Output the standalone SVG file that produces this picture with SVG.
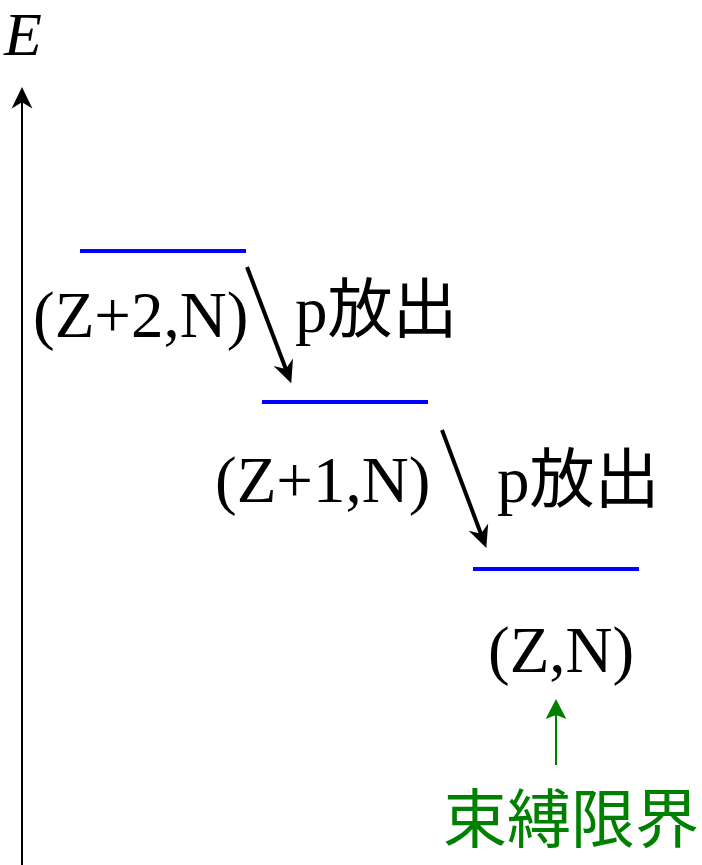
<svg xmlns="http://www.w3.org/2000/svg" width="702" height="865" viewBox="0 0 702 865">
<style>
.lvl{stroke:#0000ff;stroke-width:4;fill:none}
.lbl{font-family:"Liberation Serif","Noto Sans CJK JP",serif;font-size:65px;fill:#000}
.ax{stroke:#000;stroke-width:2;fill:none}
.trans{stroke:#000;stroke-width:4;fill:none}
.grn{stroke:#008000;stroke-width:2;fill:none}
</style>
<defs>
<marker id="ahAx" markerUnits="userSpaceOnUse" markerWidth="40" markerHeight="40" refX="0" refY="0" orient="auto" overflow="visible" viewBox="-30 -20 50 40">
<path d="M10,0 L-17,-13 L-9,0 L-17,13 Z" fill="#000"/>
</marker>
<marker id="ahT" markerUnits="userSpaceOnUse" markerWidth="40" markerHeight="40" refX="0" refY="0" orient="auto" overflow="visible" viewBox="-30 -20 50 40">
<path d="M10,0 L-18,-13 L-9,0 L-18,13 Z" fill="#000"/>
</marker>
<marker id="ahG" markerUnits="userSpaceOnUse" markerWidth="40" markerHeight="40" refX="0" refY="0" orient="auto" overflow="visible" viewBox="-30 -20 50 40">
<path d="M10,0 L-15,-13 L-10,0 L-15,13 Z" fill="#008000"/>
</marker>
</defs>
<g id="axis">
<line class="ax" x1="22" y1="865" x2="22" y2="95" marker-end="url(#ahAx)"/>
<text x="4" y="55" style="font-family:'Liberation Serif',serif;font-style:italic;font-size:62px">E</text>
</g>
<g id="level-z2n">
<line class="lvl" x1="80" y1="251" x2="246" y2="251"/>
<text class="lbl" x="33" y="337">(Z+2,N)</text>
</g>
<g id="level-z1n">
<line class="lvl" x1="262" y1="402" x2="428" y2="402"/>
<text class="lbl" x="215" y="502">(Z+1,N)</text>
</g>
<g id="level-zn">
<line class="lvl" x1="473" y1="569" x2="639" y2="569"/>
<text class="lbl" x="488" y="672">(Z,N)</text>
</g>
<g id="label-p1">
<text class="lbl" x="295" y="332">p放出</text>
</g>
<g id="label-p2">
<text class="lbl" x="497" y="502">p放出</text>
</g>
<g id="label-drip">
<text x="443" y="842" style="font-family:'Noto Sans CJK JP',sans-serif;font-size:64px;fill:#008000">束縛限界</text>
</g>
<g id="connectors">
<line class="trans" x1="247" y1="267" x2="288.4" y2="375.7" marker-end="url(#ahT)"/>
<line class="trans" x1="442" y1="430" x2="483.5" y2="540.6" marker-end="url(#ahT)"/>
<line class="grn" x1="556" y1="765" x2="556" y2="707" marker-end="url(#ahG)"/>
</g>
</svg>
